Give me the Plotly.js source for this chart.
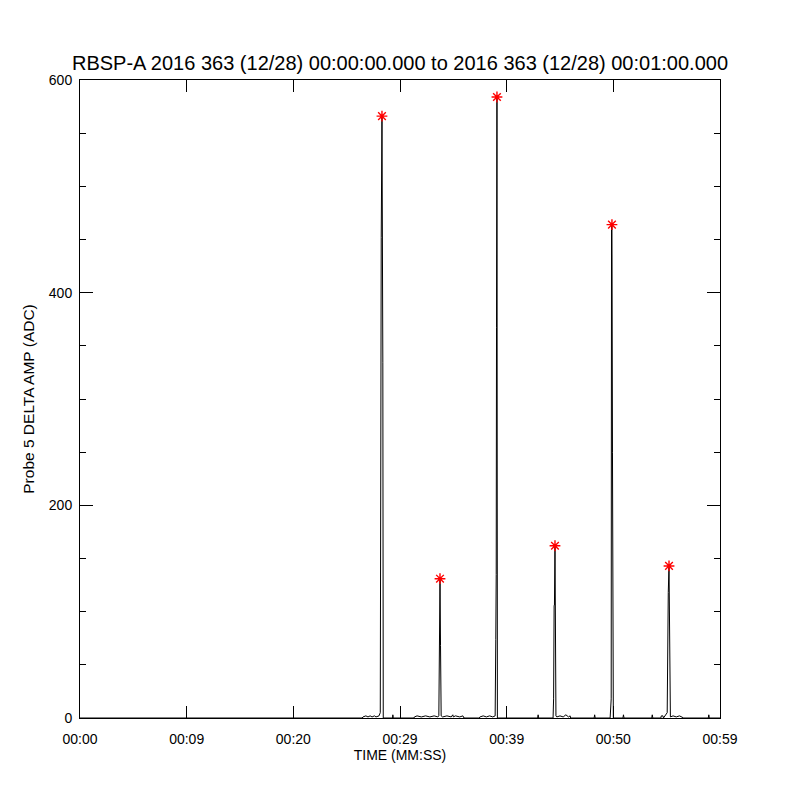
<!DOCTYPE html>
<html>
<head>
<meta charset="utf-8">
<script src="https://cdn.plot.ly/plotly-3.0.1.min.js"></script>
<style>html,body{margin:0;padding:0;background:#fff;}#chart{width:800px;height:800px;}</style>
</head>
<body>
<div id="chart"></div>
<script>
// Time in seconds after 00:00:00, amplitude in ADC
const timeSec = [0.0, 26.44, 26.53, 26.8, 27.0, 27.2, 27.38, 27.6, 27.75, 28.03, 28.15, 28.2, 28.24, 28.31, 28.39, 28.43, 28.5,
  29.3, 29.33, 29.37, 31.3, 31.35, 31.6, 32.0, 32.4, 32.8, 33.2, 33.55, 33.64, 33.7, 33.75, 33.8, 33.86,
  34.0, 34.4, 34.8, 34.95, 35.0, 35.2, 35.6, 35.9, 36.0, 37.4, 37.5, 37.8, 38.1, 38.4, 38.7, 38.92, 38.98, 39.02, 39.05, 39.09, 39.13, 39.17,
  40.0, 42.9, 42.95, 43.0, 44.35, 44.4, 44.45, 44.48, 44.53, 44.58, 44.62, 44.7, 45.0, 45.3, 45.5, 45.55, 45.8, 45.95, 46.0,
  48.2, 48.25, 48.3, 49.7, 49.76, 49.8, 49.83, 49.87, 49.92, 49.96, 50.0, 50.9, 50.95, 51.0, 53.6, 53.65, 53.7,
  54.45, 54.5, 54.65, 54.7, 55.05, 55.1, 55.15, 55.22, 55.27, 55.3, 55.35, 55.6, 55.9, 56.2, 56.5, 56.6,
  58.9, 58.95, 59.0, 60.0];
const ampADC = [0, 0, 1, 2, 1, 2, 1, 2, 1, 2, 5, 452, 452, 566, 334, 0, 0,
  0, 3, 0, 0, 1, 2, 1, 2, 1, 2, 1, 2, 68, 131, 68, 2,
  1, 2, 1, 3, 1, 2, 1, 2, 0, 0, 1, 2, 1, 2, 1, 2, 74, 135, 367, 584, 0, 0,
  0, 0, 3, 0, 0, 18, 106, 106, 162, 24, 2, 1, 2, 1, 2, 3, 1, 2, 0,
  0, 3, 0, 0, 18, 18, 463, 464, 250, 0, 0, 0, 3, 0, 0, 3, 0,
  0, 2, 2, 0, 5, 118, 118, 143, 46, 2, 1, 2, 1, 2, 1, 0,
  0, 3, 0, 0];
// Detected peaks (red asterisks)
const peakSec = [28.31, 33.75, 39.09, 44.53, 49.87, 55.22];
const peakADC = [566, 131, 584, 162, 464, 143];

const xTickVals = [0, 10, 20, 30, 40, 50, 60];
const xTickText = ['00:00', '00:09', '00:20', '00:29', '00:39', '00:50', '00:59'];
const yTickVals = [0, 200, 400, 600];
const yTickText = ['0', '200', '400', '600'];

const FONT = 'Liberation Sans, Arial, sans-serif';

const traces = [
  {x: timeSec, y: ampADC, type: 'scatter', mode: 'lines', line: {color: '#000', width: 1}, hoverinfo: 'skip', cliponaxis: true},
  {x: peakSec, y: peakADC, type: 'scatter', mode: 'markers',
   marker: {symbol: 'asterisk-open', size: 9, color: '#ff0000', line: {color: '#ff0000', width: 1.4}}, cliponaxis: false}
];

const layout = {
  width: 800, height: 800,
  paper_bgcolor: '#fff', plot_bgcolor: '#fff',
  showlegend: false,
  margin: {l: 80, r: 80, t: 80, b: 82},
  font: {family: FONT, size: 14, color: '#000'},
  title: {text: 'RBSP-A 2016 363 (12/28) 00:00:00.000 to 2016 363 (12/28) 00:01:00.000',
    font: {family: FONT, size: 20, color: '#000'}, x: 0.5, xanchor: 'center', y: 1 - 63 / 800, yanchor: 'middle'},
  xaxis: {
    range: [0, 60], tickmode: 'array', tickvals: xTickVals, ticktext: xTickText,
    ticks: 'inside', ticklen: 12, tickwidth: 1, tickcolor: '#000',
    showline: true, linecolor: '#000', linewidth: 1, mirror: 'ticks',
    showgrid: false, zeroline: false, ticklabelstandoff: 8,
    tickfont: {family: FONT, size: 14, color: '#000'},
    title: {text: 'TIME (MM:SS)', font: {family: FONT, size: 14, color: '#000'}, standoff: 4}
  },
  yaxis: {
    range: [0, 600], tickmode: 'array', tickvals: yTickVals, ticktext: yTickText,
    ticks: 'inside', ticklen: 13, tickwidth: 1, tickcolor: '#000',
    minor: {tickmode: 'linear', tick0: 0, dtick: 50, ticks: 'inside', ticklen: 6, tickcolor: '#000', tickwidth: 1, showgrid: false},
    showline: true, linecolor: '#000', linewidth: 1, mirror: 'ticks',
    showgrid: false, zeroline: false, ticklabelstandoff: 4,
    tickfont: {family: FONT, size: 14, color: '#000'},
    title: {text: 'Probe 5 DELTA AMP (ADC)', font: {family: FONT, size: 15.5, color: '#000'}, standoff: 10}
  }
};

Plotly.newPlot('chart', traces, layout, {staticPlot: true, displayModeBar: false});
</script>
</body>
</html>
